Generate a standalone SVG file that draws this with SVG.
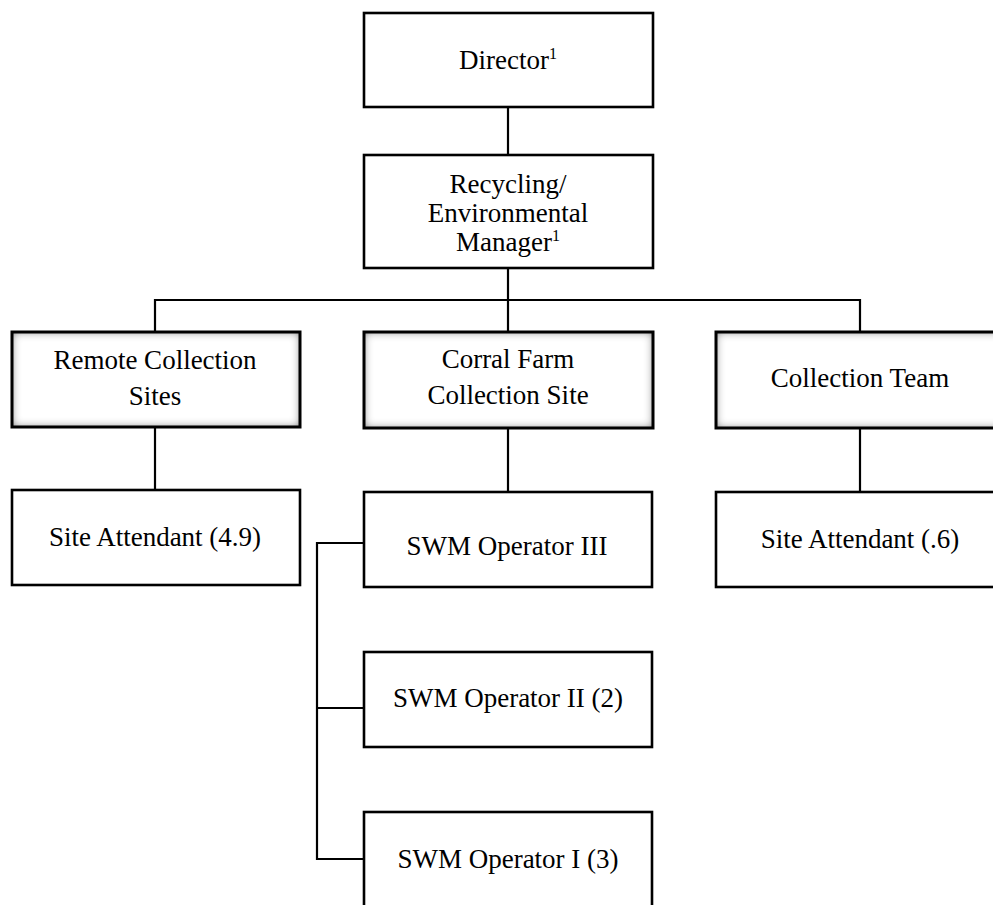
<svg xmlns="http://www.w3.org/2000/svg" width="993" height="905" viewBox="0 0 993 905">
<defs>
<filter id="inner" x="-10%" y="-25%" width="120%" height="150%">
<feFlood flood-color="#000" flood-opacity="1" result="f"/>
<feComposite in="f" in2="SourceAlpha" operator="out" result="o"/>
<feGaussianBlur in="o" stdDeviation="5" result="b"/>
<feComposite in="b" in2="SourceAlpha" operator="in" result="s"/>
<feMerge><feMergeNode in="SourceGraphic"/><feMergeNode in="s"/></feMerge>
</filter>
</defs>
<style>
.box{fill:#fff;stroke:#000;stroke-width:2.6}
.shade{fill:#fff;stroke:none}
.sbox{fill:none;stroke:#000;stroke-width:3}
.t{font-family:"Liberation Serif","Times New Roman",serif;font-size:27px;fill:#000;text-anchor:middle}
.c{fill:none;stroke:#000;stroke-width:2.2}
</style>
<rect width="993" height="905" fill="#fff"/>
<g id="connectors">
<path class="c" d="M508 107V155"/>
<path class="c" d="M508 268V332"/>
<path class="c" d="M155 332V300H860V332"/>
<path class="c" d="M155 427V490"/>
<path class="c" d="M508 428V492"/>
<path class="c" d="M860 428V492"/>
<path class="c" d="M364 543H317V859H364"/>
<path class="c" d="M317 708H364"/>
</g>
<g id="director">
<rect class="box" x="364" y="13" width="289" height="94"/>
<text class="t" x="508" y="69">Director<tspan font-size="16" dy="-10">1</tspan></text>
</g>
<g id="manager">
<rect class="box" x="364" y="155" width="289" height="113"/>
<text class="t" x="508" y="193">Recycling/</text>
<text class="t" x="508" y="222">Environmental</text>
<text class="t" x="508" y="251">Manager<tspan font-size="16" dy="-10">1</tspan></text>
</g>
<g id="remote">
<rect class="shade" x="12" y="332" width="288" height="95" filter="url(#inner)"/>
<rect class="sbox" x="12" y="332" width="288" height="95"/>
<text class="t" x="155" y="369">Remote Collection</text>
<text class="t" x="155" y="405">Sites</text>
</g>
<g id="corral">
<rect class="shade" x="364" y="332" width="289" height="96" filter="url(#inner)"/>
<rect class="sbox" x="364" y="332" width="289" height="96"/>
<text class="t" x="508" y="368">Corral Farm</text>
<text class="t" x="508" y="404">Collection Site</text>
</g>
<g id="team">
<rect class="shade" x="716" y="332" width="290" height="96" filter="url(#inner)"/>
<rect class="sbox" x="716" y="332" width="290" height="96"/>
<text class="t" x="860" y="387">Collection Team</text>
</g>
<g id="attendant49">
<rect class="box" x="12" y="490" width="288" height="95"/>
<text class="t" x="155" y="546">Site Attendant (4.9)</text>
</g>
<g id="op3">
<rect class="box" x="364" y="492" width="288" height="95"/>
<text class="t" x="507" y="555">SWM Operator III</text>
</g>
<g id="attendant6">
<rect class="box" x="716" y="492" width="290" height="95"/>
<text class="t" x="860" y="548">Site Attendant (.6)</text>
</g>
<g id="op2">
<rect class="box" x="364" y="652" width="288" height="95"/>
<text class="t" x="508" y="707">SWM Operator II (2)</text>
</g>
<g id="op1">
<rect class="box" x="364" y="812" width="288" height="110"/>
<text class="t" x="508" y="868">SWM Operator I (3)</text>
</g>
</svg>
